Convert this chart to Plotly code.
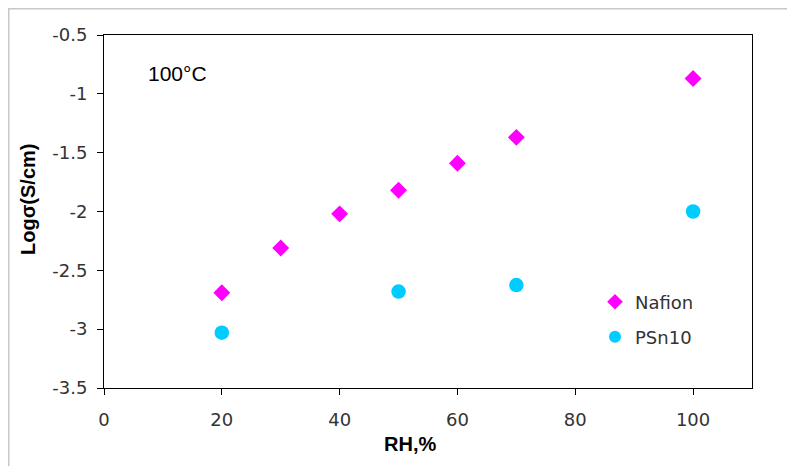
import plotly.graph_objects as go

rh_nafion = [20, 30, 40, 50, 60, 70, 100]
log_nafion = [-2.69, -2.31, -2.02, -1.82, -1.59, -1.37, -0.87]
rh_psn10 = [20, 50, 70, 100]
log_psn10 = [-3.03, -2.68, -2.625, -2.00]

x_ticks = [0, 20, 40, 60, 80, 100]
y_ticks = [-0.5, -1, -1.5, -2, -2.5, -3, -3.5]
y_ticktext = ["-0.5", "-1", "-1.5", "-2", "-2.5", "-3", "-3.5"]

SANS = "Liberation Sans, Arial, sans-serif"
WIDE = "DejaVu Sans, Verdana, sans-serif"

# figure is drawn inside the page body (8px offset)
W, H = 787, 458
L, R, T, B = 96, 43, 27, 78
PW, PH = W - L - R, H - T - B


def px(xabs):
    return (xabs - 8 - L) / PW


def py(yabs):
    return (H - B - (yabs - 8)) / PH


fig = go.Figure()
fig.add_trace(go.Scatter(
    x=rh_nafion, y=log_nafion, mode="markers", name="Nafion",
    marker=dict(symbol="diamond", size=13, color="#FF00FF"),
    legend="legend",
))
fig.add_trace(go.Scatter(
    x=rh_psn10, y=log_psn10, mode="markers", name="PSn10",
    marker=dict(symbol="circle", size=14.5, color="#00CCFF"),
    legend="legend2",
))

axis_common = dict(
    showgrid=False, zeroline=False, showline=True, linecolor="#000000",
    linewidth=1, mirror=True, ticks="outside", ticklen=6, tickcolor="#000000",
    tickfont=dict(family=WIDE, size=18, color="#333333"),
)

legend_common = dict(
    xanchor="left", yanchor="middle", bgcolor="rgba(0,0,0,0)",
    font=dict(family=WIDE, size=18, color="#333333"),
    itemsizing="constant", borderwidth=0,
)

fig.update_layout(
    width=W, height=H,
    margin=dict(l=L, r=R, t=T, b=B, pad=0),
    paper_bgcolor="white", plot_bgcolor="white",
    font=dict(family=SANS, color="#000000"),
    xaxis=dict(range=[0, 110], tickvals=x_ticks, ticklabelstandoff=9, **axis_common),
    yaxis=dict(range=[-3.5, -0.5], tickvals=y_ticks, ticktext=y_ticktext,
               ticklabelstandoff=6, **axis_common),
    showlegend=True,
    legend=dict(x=px(595), y=py(302), **legend_common),
    legend2=dict(x=px(595), y=py(337), **legend_common),
    annotations=[
        dict(text="100°C", x=px(146), y=py(74), xref="paper", yref="paper",
             xanchor="left", yanchor="middle", showarrow=False,
             font=dict(family=SANS, size=21, color="#000000")),
        dict(text="<b>RH,%</b>", x=px(410), y=py(444), xref="paper", yref="paper",
             xanchor="center", yanchor="middle", showarrow=False,
             font=dict(family=SANS, size=20, color="#000000")),
        dict(text="<b>Logσ(S/cm)</b>", x=px(28), y=py(200), xref="paper", yref="paper",
             xanchor="center", yanchor="middle", showarrow=False, textangle=-90,
             font=dict(family=SANS, size=20, color="#000000")),
    ],
    shapes=[
        dict(type="line", xref="paper", yref="paper",
             x0=px(8), x1=px(800), y0=py(8.5), y1=py(8.5),
             line=dict(color="#C8C8C8", width=2)),
        dict(type="line", xref="paper", yref="paper",
             x0=px(8.5), x1=px(8.5), y0=py(8), y1=py(470),
             line=dict(color="#C8C8C8", width=2)),
    ],
)

fig.write_html("out.html")
